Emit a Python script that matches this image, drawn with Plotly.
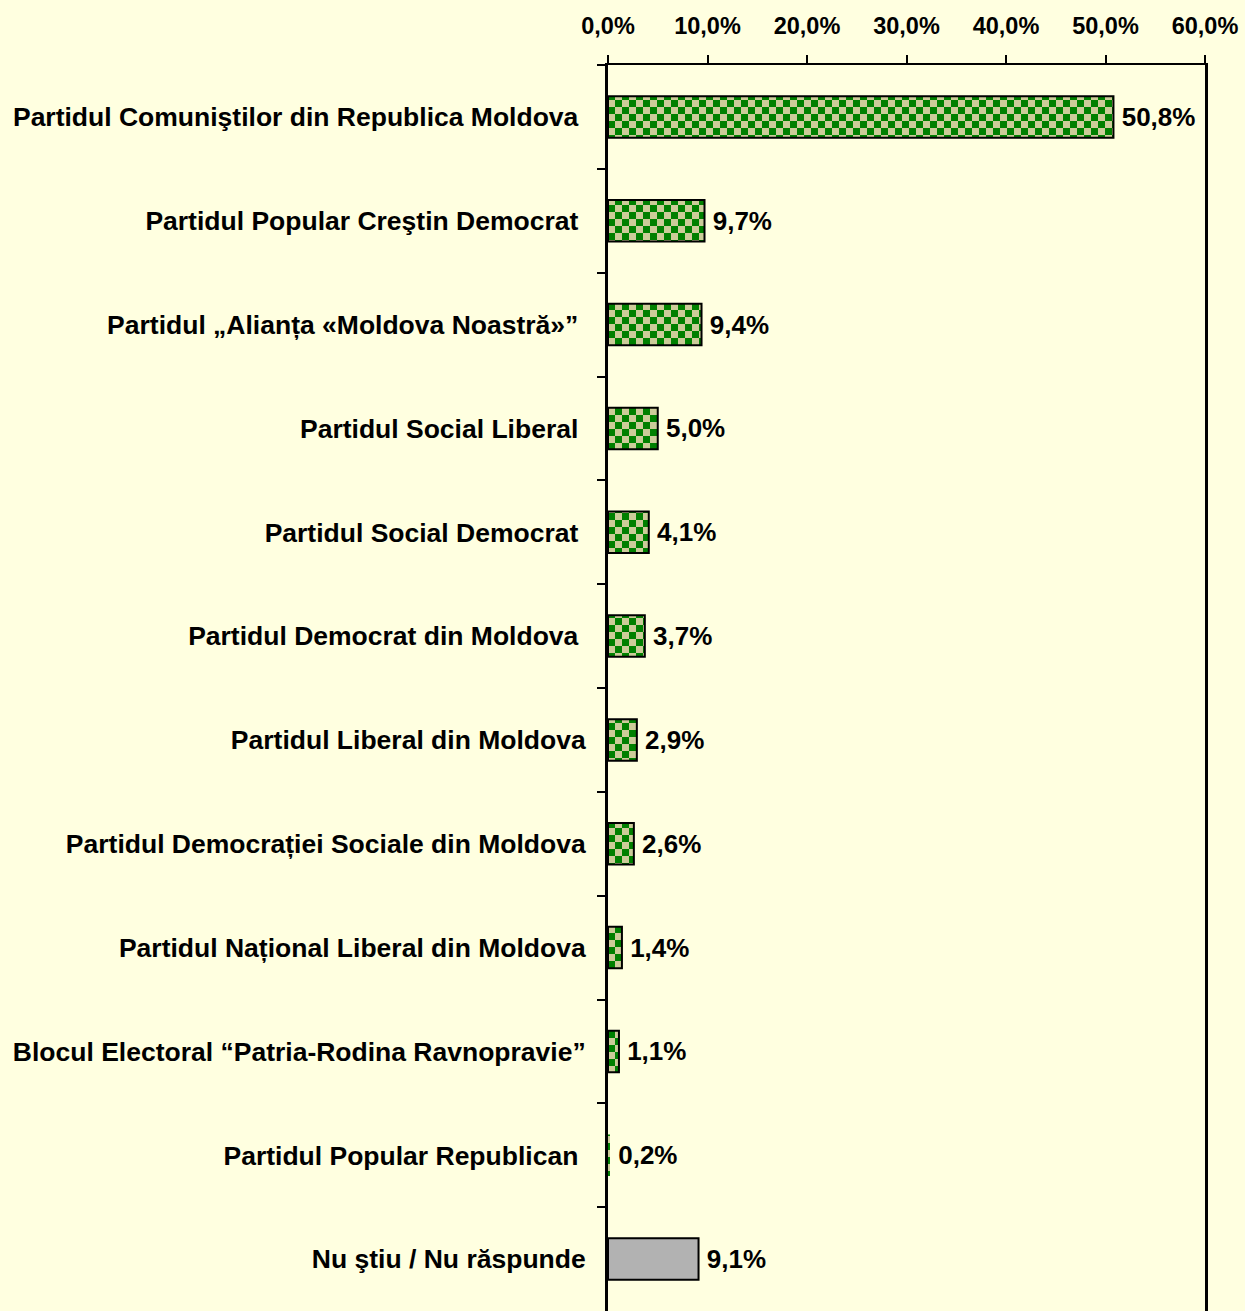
import plotly.graph_objects as go

categories = [
    "Partidul Comuniştilor din Republica Moldova\u00a0",
    "Partidul Popular Creştin Democrat\u00a0",
    "Partidul „Alianța «Moldova Noastră»”\u00a0",
    "Partidul Social Liberal\u00a0",
    "Partidul Social Democrat\u00a0",
    "Partidul Democrat din Moldova\u00a0",
    "Partidul Liberal din Moldova",
    "Partidul Democrației Sociale din Moldova",
    "Partidul Național Liberal din Moldova",
    "Blocul Electoral “Patria-Rodina Ravnopravie”",
    "Partidul Popular Republican\u00a0",
    "Nu ştiu / Nu răspunde",
]
values = [50.8, 9.7, 9.4, 5.0, 4.1, 3.7, 2.9, 2.6, 1.4, 1.1, 0.2, 9.1]
value_labels = ["50,8%", "9,7%", "9,4%", "5,0%", "4,1%", "3,7%", "2,9%", "2,6%",
                "1,4%", "1,1%", "0,2%", "9,1%"]
x_ticks = [0, 10, 20, 30, 40, 50, 60]
x_tick_labels = ["0,0%", "10,0%", "20,0%", "30,0%", "40,0%", "50,0%", "60,0%"]

BG = "#FFFFE0"
GREEN = "#008000"
TAN = "#CCCC99"
GRAY = "#B2B2B2"
FONT = "Liberation Sans, Arial, sans-serif"

colors = [TAN] * 11 + [GRAY]
shapes = ["."] * 11 + [""]
line_widths = [2] * 10 + [0] + [2]

fig = go.Figure(go.Bar(
    y=categories,
    x=values,
    orientation="h",
    text=value_labels,
    texttemplate="\u2009%{text}",
    textposition="outside",
    cliponaxis=False,
    textfont=dict(family=FONT, size=26, color="black", weight="bold"),
    marker=dict(
        color=colors,
        line=dict(color="black", width=line_widths),
        pattern=dict(shape=shapes, fillmode="overlay", fgcolor=GREEN,
                     size=14, solidity=0.5),
    ),
))

fig.update_layout(
    width=1245, height=1311,
    margin=dict(l=608, r=40, t=65, b=0),
    paper_bgcolor=BG, plot_bgcolor=BG,
    bargap=0.6,
    showlegend=False,
    separators=", ",
    font=dict(family=FONT, color="black"),
)
fig.update_xaxes(
    side="top", range=[0, 60], tickvals=x_ticks, ticktext=x_tick_labels,
    showgrid=False, zeroline=False, showline=True, linecolor="black", linewidth=2,
    ticks="outside", ticklen=8, tickwidth=2, tickcolor="black",
    ticklabelstandoff=12,
    tickfont=dict(family=FONT, size=23.5, color="black", weight="bold"),
)
fig.update_yaxes(
    autorange="reversed", type="category",
    showgrid=False, zeroline=False, showline=True, linecolor="black", linewidth=3,
    mirror=True,
    ticks="outside", ticklen=8, tickwidth=2, tickcolor="black", tickson="boundaries",
    ticklabelstandoff=14,
    tickfont=dict(family=FONT, size=26.5, color="black", weight="bold"),
)

post = """
document.body.style.margin = '0';
document.body.style.background = '%s';
var svgns = 'http://www.w3.org/2000/svg';
document.querySelectorAll('pattern').forEach(function(p){
  while (p.firstChild) { p.removeChild(p.firstChild); }
  p.setAttribute('width', 14); p.setAttribute('height', 14);
  p.setAttribute('viewBox', '0 0 14 14');
  var specs = [[0,0,14,14,'%s'],[0,0,7,7,'%s'],[7,7,7,7,'%s']];
  specs.forEach(function(s){
    var r = document.createElementNS(svgns, 'rect');
    r.setAttribute('x', s[0]); r.setAttribute('y', s[1]);
    r.setAttribute('width', s[2]); r.setAttribute('height', s[3]);
    r.setAttribute('fill', s[4]);
    p.appendChild(r);
  });
});
""" % (BG, TAN, GREEN, GREEN)

fig.write_html("out.html", post_script=post,
               config={"displayModeBar": False, "staticPlot": True})
